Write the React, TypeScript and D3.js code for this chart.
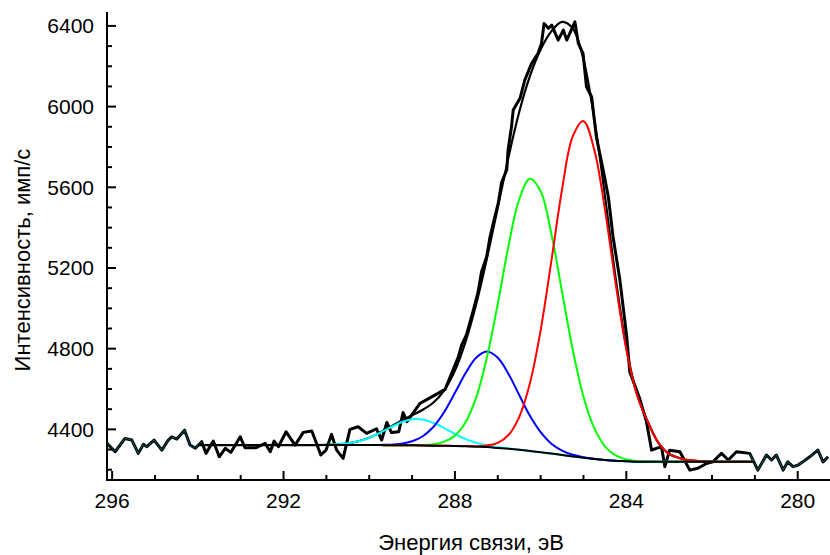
import React from "react";
import * as d3 from "d3";

// ---------- measured spectrum (binding energy, eV / counts) ----------
const dataEnergy = [
  296.12, 295.93, 295.7, 295.54, 295.39, 295.27, 295.19, 295.02, 294.84, 294.69,
  294.61, 294.49, 294.31, 294.18, 294.06, 293.91, 293.81, 293.64, 293.5, 293.36,
  293.23, 293.01, 292.9, 292.64, 292.43, 292.31, 292.22, 292.12, 291.94, 291.73,
  291.54, 291.34, 291.13, 291.01, 290.88, 290.76, 290.61, 290.45, 290.26, 290.06,
  289.83, 289.71, 289.59, 289.48, 289.31, 289.21, 289.12, 288.82, 288.51, 288.23,
  288.16, 287.92, 287.84, 287.73, 287.57, 287.46, 287.38, 287.26, 287.18, 287.07,
  286.99, 286.91, 286.79, 286.76, 286.68, 286.64, 286.48, 286.37, 286.21, 286.06,
  285.98, 285.92, 285.82, 285.74, 285.59, 285.47, 285.39, 285.2, 285.12, 285.01,
  284.93, 284.81, 284.7, 284.54, 284.42, 284.31, 284.15, 283.99, 283.92, 283.69,
  283.53, 283.41, 283.3, 283.18, 283.1, 282.99, 282.75, 282.52, 282.33, 282.13,
  281.98, 281.78, 281.62, 281.43, 281.12, 280.93, 280.73, 280.61, 280.5, 280.34,
  280.23, 280.11, 279.99, 279.88, 279.72, 279.53, 279.41, 279.29,
];
const dataCounts = [
  4331, 4289, 4355, 4347, 4281, 4326, 4314, 4347, 4297, 4347,
  4363, 4352, 4396, 4322, 4306, 4339, 4281, 4342, 4264, 4306,
  4286, 4363, 4309, 4309, 4331, 4289, 4342, 4314, 4388, 4322,
  4385, 4392, 4273, 4297, 4375, 4297, 4256, 4400, 4413, 4380,
  4403, 4347, 4434, 4384, 4388, 4483, 4438, 4528, 4565, 4598,
  4635, 4760, 4820, 4870, 4991, 5080, 5180, 5256, 5355, 5454,
  5520, 5625, 5686, 5784, 5900, 5983, 6041, 6131, 6214, 6264,
  6313, 6412, 6388, 6404, 6330, 6379, 6330, 6420, 6313, 6264,
  6098, 6049, 5850, 5686, 5553, 5355, 5140, 4859, 4686, 4554,
  4438, 4297, 4306, 4314, 4215, 4297, 4289, 4198, 4207, 4231,
  4239, 4281, 4248, 4289, 4281, 4198, 4273, 4248, 4273, 4198,
  4239, 4215, 4223, 4239, 4264, 4297, 4239, 4264,
];

// ---------- fit (energies of the sampled fit curves) ----------
const fitEnergy = [
  294.0, 293.5, 293.0, 292.5, 292.0, 291.5, 291.25, 291.0, 290.75, 290.5,
  290.25, 290.0, 289.75, 289.5, 289.25, 289.0, 288.75, 288.5, 288.25, 288.0,
  287.75, 287.5, 287.25, 287.0, 286.75, 286.5, 286.25, 286.0, 285.75, 285.5,
  285.25, 285.0, 284.75, 284.5, 284.25, 284.0, 283.75, 283.5, 283.25, 283.0,
  282.75, 282.5, 282.25, 282.0, 281.75, 281.5, 281.25, 281.0,
];
// Shirley background
const background = [
  4322, 4322, 4322, 4322, 4322, 4322, 4322, 4322, 4322, 4322,
  4322, 4322, 4322, 4321, 4321, 4321, 4320, 4319, 4319, 4318,
  4316, 4314, 4312, 4308, 4304, 4299, 4293, 4287, 4280, 4273,
  4266, 4259, 4253, 4248, 4244, 4242, 4240, 4239, 4239, 4239,
  4239, 4239, 4239, 4239, 4239, 4239, 4239, 4239,
];
// component intensities above background
const peakRed = [
  0, 0, 0, 0, 0, 0, 0, 0, 0, 0,
  0, 0, 0, 0, 0, 0, 0, 0, 0, 0,
  1, 2, 8, 25, 68, 162, 335, 604, 954, 1316,
  1586, 1669, 1535, 1243, 880, 555, 330, 198, 94, 39,
  18, 7, 3, 1, 0, 0, 0, 0,
];
const peakGreen = [
  0, 0, 0, 0, 0, 0, 0, 0, 0, 0,
  0, 0, 0, 0, 0, 0, 2, 7, 20, 51,
  120, 247, 448, 715, 1005, 1241, 1349, 1293, 1090, 809,
  528, 303, 154, 68, 27, 9, 3, 1, 0, 0,
  0, 0, 0, 0, 0, 0, 0, 0,
];
const peakBlue = [
  0, 0, 0, 0, 0, 0, 0, 0, 0, 0,
  0, 0, 1, 3, 8, 20, 46, 94, 167, 263,
  363, 442, 474, 447, 371, 271, 174, 99, 49, 22,
  8, 3, 1, 0, 0, 0, 0, 0, 0, 0,
  0, 0, 0, 0, 0, 0, 0, 0,
];
const peakCyan = [
  0, 0, 0, 0, 0, 0, 0, 1, 4, 9,
  19, 36, 61, 89, 114, 129, 129, 113, 87, 59,
  36, 19, 9, 4, 1, 0, 0, 0, 0, 0,
  0, 0, 0, 0, 0, 0, 0, 0, 0, 0,
  0, 0, 0, 0, 0, 0, 0, 0,
];

const xTickValues = [296, 292, 288, 284, 280];
const yTickValues = [4400, 4800, 5200, 5600, 6000, 6400];
const xTitle = "Энергия связи, эВ";
const yTitle = "Интенсивность, имп/с";

const W = 830;
const H = 555;
const FONT = "'Liberation Sans', Arial, Helvetica, sans-serif";

export default function App() {
  const left = 107;
  const bottom = 480;
  const top = 12;
  const x = d3.scaleLinear().domain([296.12, 279.2]).range([left, 832]);
  const y = d3.scaleLinear().domain([4149, 6469]).range([bottom, top]);

  type P = [number, number];
  const data: P[] = dataEnergy.map((e, i) => [e, dataCounts[i]]);
  const fitStart = fitEnergy[0];
  const fitEnd = fitEnergy[fitEnergy.length - 1];
  const outsideLeft = data.filter((d) => d[0] >= fitStart - 0.15);
  const outsideRight = data.filter((d) => d[0] <= fitEnd + 0.15);

  const comp = (arr: number[]): P[] => fitEnergy.map((e, i) => [e, background[i] + arr[i]]);
  const bgPts: P[] = fitEnergy.map((e, i) => [e, background[i]]);
  const envPts: P[] = fitEnergy.map((e, i) => [
    e,
    background[i] + peakRed[i] + peakGreen[i] + peakBlue[i] + peakCyan[i],
  ]);

  const lineRaw = d3
    .line<P>()
    .x((d) => x(d[0]))
    .y((d) => y(d[1]));
  const lineSmooth = d3
    .line<P>()
    .x((d) => x(d[0]))
    .y((d) => y(d[1]))
    .curve(d3.curveCatmullRom.alpha(0.5));

  const xMinor = d3.range(280, 297, 1).filter((v) => !xTickValues.includes(v));
  const yMinor = d3.range(4200, 6500, 100).filter((v) => !yTickValues.includes(v));

  const components = [
    { arr: peakCyan, color: "#00ffff" },
    { arr: peakBlue, color: "#0000ff" },
    { arr: peakGreen, color: "#00ff00" },
    { arr: peakRed, color: "#ff0000" },
  ];

  return (
    <svg
      width={W}
      height={H}
      viewBox={`0 0 ${W} ${H}`}
      style={{ position: "fixed", left: 0, top: 0, background: "#fff" }}
      fontFamily={FONT}
    >
      <defs>
        <clipPath id="plotClip">
          <rect x={left} y={0} width={W - left} height={bottom} />
        </clipPath>
      </defs>
      <rect x={0} y={0} width={W} height={H} fill="#fff" />

      <g clipPath="url(#plotClip)" fill="none" strokeLinejoin="round">
        {/* measured data */}
        <path d={lineRaw(data) || ""} stroke="#000" strokeWidth={3} />
        <path d={lineRaw(outsideLeft) || ""} stroke="#00ffff" strokeOpacity={0.35} strokeWidth={1} />
        <path d={lineRaw(outsideRight) || ""} stroke="#00ffff" strokeOpacity={0.35} strokeWidth={1} />
        {/* envelope */}
        <path d={lineSmooth(envPts) || ""} stroke="#000" strokeWidth={2.2} />
        {/* components */}
        {components.map((c, i) => (
          <path key={i} d={lineSmooth(comp(c.arr)) || ""} stroke={c.color} strokeWidth={2} />
        ))}
        {/* background */}
        <path d={lineSmooth(bgPts) || ""} stroke="#000" strokeWidth={2} />
      </g>

      {/* axes */}
      <g stroke="#000" strokeWidth={2}>
        <line x1={left} x2={left} y1={top} y2={bottom + 1} />
        <line x1={left - 1} x2={W} y1={bottom} y2={bottom} />
        {yTickValues.map((v) => (
          <line key={"ym" + v} x1={left} x2={left + 9} y1={y(v)} y2={y(v)} />
        ))}
        {yMinor.map((v) => (
          <line key={"yn" + v} x1={left} x2={left + 5} y1={y(v)} y2={y(v)} />
        ))}
        {xTickValues.map((v) => (
          <line key={"xm" + v} x1={x(v)} x2={x(v)} y1={bottom} y2={bottom - 9} />
        ))}
        {xMinor.map((v) => (
          <line key={"xn" + v} x1={x(v)} x2={x(v)} y1={bottom} y2={bottom - 5} />
        ))}
      </g>

      <g fontSize={21} fill="#000">
        {yTickValues.map((v) => (
          <text key={"yl" + v} x={94} y={y(v)} textAnchor="end" dominantBaseline="central">
            {v}
          </text>
        ))}
        {xTickValues.map((v) => (
          <text key={"xl" + v} x={x(v)} y={508} textAnchor="middle">
            {v}
          </text>
        ))}
      </g>

      <text x={471} y={550} fontSize={22} textAnchor="middle" fill="#000">
        {xTitle}
      </text>
      <text
        transform="translate(22,260) rotate(-90)"
        fontSize={22}
        textAnchor="middle"
        dominantBaseline="central"
        fill="#000"
      >
        {yTitle}
      </text>
    </svg>
  );
}
